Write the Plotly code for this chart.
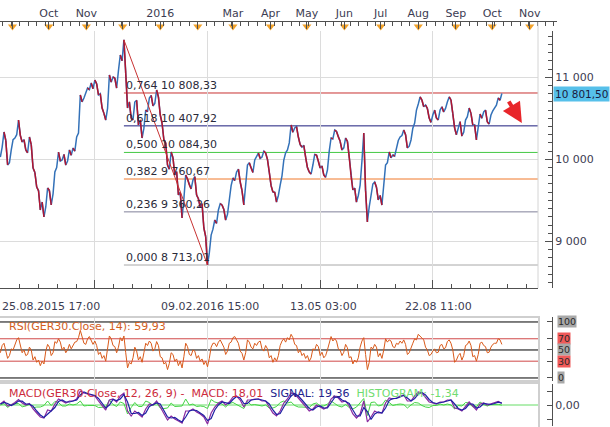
import pandas as pd
import plotly.graph_objects as go

# ---------------- data ----------------
price_close = [
    10028, 10333, 9931, 10114, 10260, 10479, 10211, 10114, 10272, 9894,
    9663, 9383, 9298, 9651, 9444, 9846, 10089, 9992, 9931, 10114,
    10138, 10272, 10784, 10747, 10869, 10930, 10966, 10784, 10625, 10479,
    11027, 11003, 10869, 11271, 11455.58, 10625, 10503, 10698, 10418, 10260,
    10601, 10747, 10650, 10845, 10540, 10236, 9931, 10089, 9809, 9566,
    9285, 9809, 9687, 9748, 9566, 9419, 9164, 8713.01, 9078, 9261,
    9383, 9444, 9261, 9505, 9773, 9846, 9724, 9444, 9931, 9894,
    9992, 10077, 10028, 10077, 9846, 9602, 9480, 9687, 9992, 10114,
    10418, 10382, 10272, 10150, 10028, 9846, 9931, 10053, 9894, 9809,
    9870, 10260, 10357, 10272, 10114, 10260, 10028, 9627, 9480, 9687,
    10321, 9237, 9566, 9724, 9505, 9444, 9931, 10089, 10053, 10138,
    10272, 10357, 10138, 10236, 10443, 10674, 10723, 10662, 10503, 10540,
    10503, 10601, 10577, 10698, 10723, 10382, 10394, 10284, 10479, 10625,
    10418, 10236, 10552, 10577, 10455, 10540, 10625, 10747, 10801.5,
]
# intermediate swings read between consecutive points above
price_mid = [
    10150, 10230, 9960, 10240, 10300, 10290, 10240, 10080, 10180, 9840,
    9620, 9480, 9420, 9620, 9580, 9900, 9980, 10060, 9980, 10050,
    10100, 10320, 10700, 10820, 10850, 10860, 10920, 10800, 10560, 10620,
    10940, 10990, 11080, 11200, 11050, 10700, 10480, 10720, 10480, 10380,
    10580, 10780, 10680, 10760, 10440, 10200, 9880, 10020, 9850, 9600,
    9520, 9760, 9640, 9790, 9520, 9460, 9060, 8860, 9150, 9220,
    9460, 9390, 9330, 9680, 9740, 9880, 9620, 9680, 9960, 9840,
    10040, 10010, 10100, 10000, 9680, 9600, 9560, 9800, 10080, 10200,
    10330, 10400, 10180, 10170, 9900, 9820, 10060, 9980, 9920, 9780,
    10100, 10250, 10340, 10220, 10140, 10220, 9800, 9650, 9560, 9980,
    9620, 9420, 9700, 9660, 9560, 9700, 9960, 10020, 10040, 10230,
    10290, 10300, 10160, 10380, 10600, 10760, 10640, 10620, 10450, 10600,
    10480, 10640, 10620, 10760, 10560, 10300, 10460, 10330, 10520, 10560,
    10420, 10380, 10500, 10600, 10430, 10590, 10660, 10720,
]
rsi_values = [
    45, 62, 35, 52, 60, 72, 45, 40, 55, 32,
    28, 22, 25, 60, 40, 65, 70, 50, 45, 60,
    58, 65, 85, 62, 70, 68, 66, 42, 35, 30,
    75, 58, 45, 72, 75, 18, 25, 55, 32, 28,
    62, 66, 48, 65, 38, 25, 15, 45, 30, 22,
    18, 62, 42, 50, 35, 30, 24, 20, 55, 62,
    64, 60, 42, 62, 72, 68, 48, 32, 68, 55,
    62, 64, 52, 58, 36, 28, 30, 58, 70, 72,
    78, 60, 45, 40, 35, 30, 52, 60, 40, 36,
    50, 74, 70, 52, 40, 60, 36, 25, 28, 55,
    72, 15, 55, 60, 38, 35, 70, 68, 56, 62,
    66, 68, 42, 55, 70, 78, 72, 55, 40, 48,
    45, 58, 52, 65, 62, 28, 40, 32, 58, 66,
    38, 30, 62, 58, 45, 55, 62, 70, 59.93,
]
rsi_mid = [
    58, 50, 40, 50, 68, 60, 50, 42, 50, 38,
    32, 30, 48, 55, 45, 62, 64, 55, 50, 52,
    64, 72, 74, 60, 74, 60, 58, 46, 40, 55,
    70, 56, 55, 66, 45, 28, 36, 48, 38, 45,
    58, 62, 52, 58, 36, 28, 26, 42, 34, 30,
    38, 56, 40, 48, 40, 34, 30, 35, 62, 56,
    68, 55, 48, 64, 74, 62, 44, 45, 64, 52,
    58, 66, 48, 52, 40, 36, 40, 66, 64, 68,
    72, 58, 50, 44, 40, 36, 50, 56, 46, 40,
    60, 66, 66, 50, 46, 54, 38, 32, 36, 66,
    42, 28, 52, 55, 44, 50, 64, 66, 54, 60,
    62, 60, 45, 62, 68, 74, 68, 50, 42, 52,
    46, 60, 54, 68, 50, 32, 44, 40, 60, 58,
    40, 42, 64, 56, 46, 60, 62, 68,
]
macd_values = [
    10, 40, -10, 0, 25, 55, 20, 0, 15, -40,
    -80, -120, -130, -50, -60, 10, 60, 40, 20, 40,
    40, 60, 140, 120, 110, 100, 90, 40, -10, -50,
    50, 60, 30, 90, 120, -60, -110, -60, -90, -120,
    -40, 10, 0, 40, -20, -90, -150, -110, -140, -160,
    -180, -60, -60, -40, -70, -90, -120, -190, -80, -20,
    20, 40, 0, 30, 80, 90, 50, -20, 50, 50,
    60, 60, 40, 40, -20, -80, -110, -60, 20, 60,
    120, 110, 70, 30, -10, -60, -40, 0, -20, -40,
    -20, 60, 90, 70, 30, 40, -10, -90, -130, -90,
    40, -170, -120, -60, -80, -80, 20, 70, 60, 70,
    90, 100, 40, 40, 90, 130, 120, 80, 30, 20,
    10, 30, 30, 50, 50, -30, -40, -60, -10, 30,
    -10, -50, 10, 20, 0, 10, 20, 35, 18.01,
]
signal_values = [
    10, 25, 15, -5, 12, 40, 38, 10, 8, -12,
    -60, -100, -125, -90, -55, -25, 35, 50, 30, 30,
    40, 50, 100, 130, 115, 105, 95, 65, 15, -30,
    0, 55, 45, 60, 105, 30, -85, -85, -75, -105,
    -80, -15, 5, 20, 10, -55, -120, -130, -125, -150,
    -170, -120, -60, -50, -55, -80, -105, -155, -135, -50,
    0, 30, 20, 15, 55, 85, 70, 15, 15, 50,
    55, 60, 50, 40, 10, -50, -95, -85, -20, 40,
    90, 115, 90, 50, 10, -35, -50, -20, -10, -30,
    -30, 20, 75, 80, 50, 35, 15, -50, -110, -110,
    -25, -65, -145, -90, -70, -80, -30, 45, 65, 65,
    80, 95, 70, 40, 65, 110, 125, 100, 55, 25,
    15, 20, 30, 40, 50, 10, -35, -50, -35, 10,
    10, -30, -20, 15, 10, 5, 15, 28, 19.36,
]
hist_values = [
    0, 15, -25, 5, 13, 15, -18, -10, 7, -28,
    -20, -20, -5, 40, -5, 35, 25, -10, -10, 10,
    0, 10, 40, -10, -5, -5, -5, -25, -25, -20,
    50, 5, -15, 30, 15, -90, -25, 25, -15, -15,
    40, 25, -5, 20, -30, -35, -30, 20, -15, -10,
    -10, 60, 0, 10, -15, -10, -15, -35, 55, 30,
    20, 10, -20, 15, 25, 5, -20, -35, 35, 0,
    5, 0, -10, 0, -30, -30, -15, 25, 40, 20,
    30, -5, -20, -20, -20, -25, 10, 20, -10, -10,
    10, 40, 15, -10, -20, 5, -25, -40, -20, 20,
    65, -105, 25, 30, -10, 0, 50, 25, -5, 5,
    10, 5, -30, 0, 25, 20, -5, -20, -25, -5,
    -5, 10, 0, 10, 0, -40, -5, -10, 25, 20,
    -20, -20, 30, 5, -10, 5, 5, 7, -1.34,
]
dates = pd.date_range("2015-08-22", periods=len(price_close), freq="3D")
mid_dates = pd.date_range("2015-08-23 12:00", periods=len(price_mid), freq="3D")

fib_ratios = [0.764, 0.618, 0.500, 0.382, 0.236, 0.000]
fib_values = [10808.33, 10407.92, 10084.30, 9760.67, 9360.26, 8713.01]
fib_colors = ["#c83232", "#1c1c7c", "#44c844", "#f0782a", "#80809a", "#a8a8a8"]
fib_high, fib_high_date = 11455.58, dates[34]
fib_low, fib_low_date = 8713.01, dates[57]

month_starts = ["2015-09-01", "2015-10-01", "2015-11-01", "2015-12-01", "2016-01-01",
                "2016-02-01", "2016-03-01", "2016-04-01", "2016-05-01", "2016-06-01",
                "2016-07-01", "2016-08-01", "2016-09-01", "2016-10-01", "2016-11-01"]
month_labels = ["", "Oct", "Nov", "", "2016", "", "Mar", "Apr", "May", "Jun",
                "Jul", "Aug", "Sep", "Oct", "Nov"]
grid_dates = ["2015-11-08", "2016-02-09", "2016-05-12", "2016-08-13"]
bottom_labels = ["25.08.2015 17:00", "09.02.2016 15:00", "13.05 03:00", "22.08 11:00"]
last_price_text = "10 801,50"
rsi_text = "RSI(GER30.Close, 14): 59,93"

# ---------------- layout helpers ----------------
W, H = 610, 427
def px(v): return v / W
def py(v): return 1 - v / H

X0, X1, X1T = "2015-08-21 17:00", "2016-11-07 20:00", "2016-11-23 12:00"
BLUE, RED = "#3371b8", "#b3152f"
AX = "#505050"
TXT = "#3c3c52"
FONT = "DejaVu Sans"

def fmt(v):
    s = f"{v:,.2f}"
    return s.replace(",", " ").replace(".", ",")

def interleave(main_x, main_y, mid_x, mid_y):
    xs, ys = [], []
    for k in range(len(main_y)):
        xs.append(main_x[k]); ys.append(main_y[k])
        if k < len(mid_y):
            xs.append(mid_x[k]); ys.append(mid_y[k])
    return xs, ys

px_all, py_all = interleave(dates, price_close, mid_dates, price_mid)
rx_all, ry_all = interleave(dates, rsi_values, mid_dates, rsi_mid)

# red segments where the price falls
red_x, red_y = [], []
for k in range(1, len(py_all)):
    if py_all[k] < py_all[k - 1]:
        red_x += [px_all[k - 1], px_all[k], None]
        red_y += [py_all[k - 1], py_all[k], None]

fig = go.Figure()
fig.add_trace(go.Scatter(x=px_all, y=py_all, mode="lines",
                         line=dict(color=BLUE, width=1.5), showlegend=False,
                         hoverinfo="skip", xaxis="x", yaxis="y"))
fig.add_trace(go.Scatter(x=red_x, y=red_y, mode="lines",
                         line=dict(color=RED, width=1.5), showlegend=False,
                         hoverinfo="skip", connectgaps=False, xaxis="x", yaxis="y"))
fig.add_trace(go.Scatter(
    x=[fib_high_date, fib_low_date], y=[fib_high, fib_low], mode="lines",
    line=dict(color="#c83232", width=1), showlegend=False, hoverinfo="skip",
    xaxis="x", yaxis="y"))

fig.add_trace(go.Scatter(x=rx_all, y=ry_all, mode="lines",
                         line=dict(color="#d95a1a", width=1), showlegend=False,
                         xaxis="x2", yaxis="y2"))
fig.add_trace(go.Scatter(x=dates, y=hist_values, mode="lines",
                         line=dict(color="#44d444", width=1), showlegend=False,
                         xaxis="x3", yaxis="y3"))
fig.add_trace(go.Scatter(x=dates, y=macd_values, mode="lines",
                         line=dict(color="#8a2aa0", width=1.2), showlegend=False,
                         xaxis="x3", yaxis="y3"))
fig.add_trace(go.Scatter(x=dates, y=signal_values, mode="lines",
                         line=dict(color="#1f1fa4", width=1.2), showlegend=False,
                         xaxis="x3", yaxis="y3"))
fig.add_trace(go.Scatter(x=month_starts, y=[0.5] * len(month_starts), mode="markers",
                         marker=dict(symbol="triangle-down", size=8, color="#f2a22a",
                                     line=dict(width=0)),
                         cliponaxis=False, showlegend=False, xaxis="x4", yaxis="y4"))

shapes = []
for v, c in zip(fib_values, fib_colors):
    shapes.append(dict(type="line", xref="x", yref="y", x0=fib_high_date, x1=X1,
                       y0=v, y1=v, line=dict(color=c, width=1), layer="below"))
for lvl, c in [(100, "#000000"), (70, "#d04848"), (50, "#000000"), (30, "#d04848"), (0, "#000000")]:
    shapes.append(dict(type="line", xref="x2 domain", yref="y2", x0=0, x1=1,
                       y0=lvl, y1=lvl, line=dict(color=c, width=1), layer="below"))
shapes.append(dict(type="line", xref="x3 domain", yref="y3", x0=0, x1=1, y0=0, y1=0,
                   line=dict(color="#66dd66", width=1), layer="below"))
shapes.append(dict(type="line", xref="paper", yref="paper", x0=px(538), x1=px(538),
                   y0=py(288), y1=py(22), line=dict(color="#d4d4d4", width=1)))
shapes.append(dict(type="rect", xref="paper", yref="paper", x0=px(-2), x1=px(539),
                   y0=py(381), y1=py(317), line=dict(color="#cfcfcf", width=2)))
shapes.append(dict(type="rect", xref="paper", yref="paper", x0=px(-2), x1=px(539),
                   y0=py(429), y1=py(383), line=dict(color="#cfcfcf", width=2)))

annotations = []
for r, v in zip(fib_ratios, fib_values):
    annotations.append(dict(xref="x", yref="y", x=fib_high_date, y=v, xanchor="left",
                            yanchor="bottom", showarrow=False, yshift=-1,
                            text=f"{r:.3f}".replace(".", ",") + " " + fmt(v),
                            font=dict(size=11, color="#2a2a3a")))
for cx, t in zip([51, 210, 324, 438], bottom_labels):
    annotations.append(dict(xref="paper", yref="paper", x=px(cx), y=py(306), text=t,
                            showarrow=False, xanchor="center", yanchor="middle",
                            font=dict(size=11, color=TXT)))
annotations.append(dict(xref="paper", yref="y", x=px(553), y=price_close[-1], text=last_price_text,
                        showarrow=False, xanchor="left", yanchor="middle", bgcolor="#56c0ea",
                        borderpad=1, font=dict(size=10.5, color="#1a1a40")))
annotations.append(dict(xref="x", yref="y", x="2016-10-25 12:00", y=10443, ax=-14, ay=-23,
                        text="", showarrow=True, arrowhead=2, arrowsize=1, arrowwidth=4,
                        arrowcolor="#e8262a"))
annotations.append(dict(xref="paper", yref="paper", x=px(7), y=py(326), text=rsi_text,
                        showarrow=False, xanchor="left", yanchor="middle",
                        font=dict(size=11, color="#d2601e")))
annotations.append(dict(
    xref="paper", yref="paper", x=px(7), y=py(393), showarrow=False, xanchor="left",
    yanchor="middle", font=dict(size=11),
    text='<span style="color:#cc2a3c">MACD(GER30.Close, 12, 26, 9) -  MACD: 18,01</span>  '
         '<span style="color:#22228c">SIGNAL: 19,36</span>  '
         '<span style="color:#70dc70">HISTOGRAM: -1,34</span>'))
for lvl, bg in [(100, "#a8a8a8"), (70, "#f05a5a"), (50, "#a8a8a8"), (30, "#f05a5a"), (0, "#a8a8a8")]:
    annotations.append(dict(xref="paper", yref="y2", x=px(557), y=lvl, text=str(lvl),
                            showarrow=False, xanchor="left", yanchor="middle", bgcolor=bg,
                            borderpad=0, font=dict(size=9.5, color="#2a2a2a")))

xgrid = dict(range=[X0, X1], type="date", domain=[0, px(538)], tickmode="array",
             tickvals=grid_dates, showticklabels=False, showgrid=True, gridcolor="#dcdcdc",
             zeroline=False, fixedrange=True)

fig.update_layout(
    width=W, height=H, margin=dict(l=0, r=0, t=0, b=0),
    paper_bgcolor="white", plot_bgcolor="white",
    font=dict(family=FONT, size=11, color=TXT),
    showlegend=False,
    xaxis=dict(xgrid, anchor="y", ticks="inside", ticklen=8, tickcolor=AX,
               showline=True, linecolor=AX, linewidth=1,
               minor=dict(ticks="inside", ticklen=4, tickcolor=AX, dtick=1339200000,
                          tick0="2015-11-08", showgrid=False)),
    yaxis=dict(domain=[py(288), py(22)], range=[8433, 11673], anchor="free",
               position=px(552), side="right", tickmode="array",
               tickvals=[9000, 10000, 11000], ticktext=["9 000", "10 000", "11 000"],
               ticks="inside", ticklen=7, tickcolor=AX, showline=True, linecolor=AX,
               showgrid=True, gridcolor="#dcdcdc", zeroline=False, fixedrange=True,
               minor=dict(ticks="inside", ticklen=4, tickcolor=AX, dtick=100, showgrid=False),
               tickfont=dict(size=11, color=TXT)),
    xaxis2=dict(xgrid, anchor="y2", matches="x", ticks=""),
    yaxis2=dict(domain=[py(381), py(317)], range=[-5.4, 108.9], anchor="free",
                position=px(552), side="right", tickmode="array",
                tickvals=[0, 30, 50, 70, 100], showticklabels=False, ticks="inside",
                ticklen=5, tickcolor=AX, showline=True, linecolor=AX, showgrid=False,
                zeroline=False, fixedrange=True),
    xaxis3=dict(xgrid, anchor="y3", matches="x", ticks=""),
    yaxis3=dict(domain=[py(426), py(384)], range=[-210, 210], anchor="free",
                position=px(552), side="right", tickmode="array",
                tickvals=[-140, 0, 140], ticktext=["", "0,00", ""], ticks="inside",
                ticklen=5, tickcolor=AX, showline=True, linecolor=AX, showgrid=False,
                zeroline=False, fixedrange=True, tickfont=dict(size=11, color=TXT)),
    xaxis4=dict(domain=[0, px(557)], range=[X0, X1T], type="date", anchor="y4",
                side="top", tickmode="array", tickvals=month_starts, ticktext=month_labels,
                ticks="inside", ticklen=7, tickcolor=AX, showline=True, linecolor=AX,
                showgrid=False, zeroline=False, fixedrange=True,
                minor=dict(ticks="inside", ticklen=4, tickcolor=AX, dtick=7 * 86400000,
                           tick0="2015-08-24", showgrid=False),
                tickfont=dict(size=11, color=TXT)),
    yaxis4=dict(domain=[py(31), py(22)], range=[0, 1], visible=False, fixedrange=True),
    shapes=shapes, annotations=annotations,
)

fig.write_html("out.html", config={"displayModeBar": False},
               post_script="document.body.style.margin='0px';"
                           "document.body.style.overflow='hidden';")
